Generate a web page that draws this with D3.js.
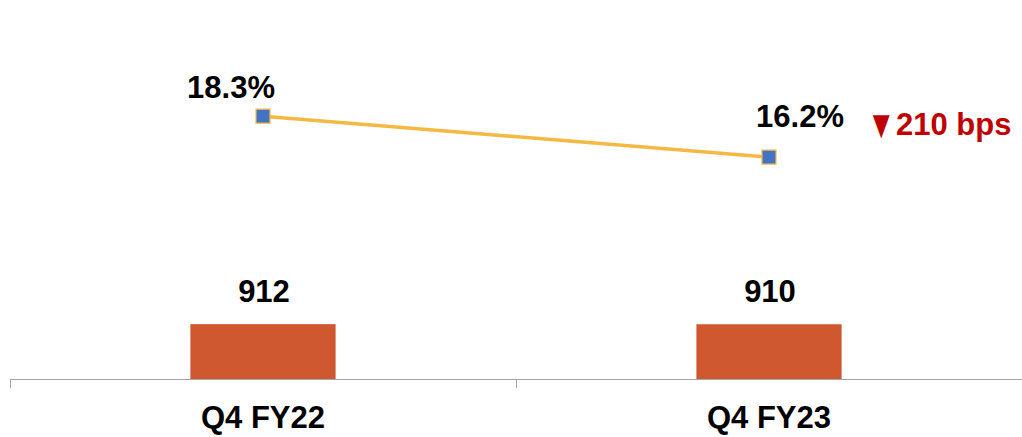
<!DOCTYPE html>
<html>
<head>
<meta charset="utf-8">
<script src="https://cdn.jsdelivr.net/npm/d3@7"></script>
<style>
  html, body { margin: 0; padding: 0; background: #fff; }
  svg { display: block; }
  text { font-family: "Liberation Sans", Arial, sans-serif; font-weight: bold; }
</style>
</head>
<body>
<svg id="chart" width="1022" height="437"></svg>
<script>
// Quarterly data
const categories = ["Q4 FY22", "Q4 FY23"];
const barValues = [912, 910];          // bar series
const marginValues = [18.3, 16.2];     // line series, percent
const changeLabel = "210 bps";         // change in margin

const W = 1022, H = 437;
const svg = d3.select("#chart");

const x = d3.scaleBand().domain(categories).range([10, 1022]).padding(0);
const barW = x.bandwidth() * 0.287;
const cx = d => x(d) + x.bandwidth() / 2;

// Bars on the primary scale, line on the secondary scale
const yBar = d3.scaleLinear().domain([0, 6300]).range([379, 0]);
const yLine = d3.scaleLinear().domain([10, 20]).range([278, 83]);

// Bars
svg.selectAll("rect.bar")
  .data(categories)
  .join("rect")
  .attr("class", "bar")
  .attr("x", d => cx(d) - barW / 2)
  .attr("y", (d, i) => yBar(barValues[i]))
  .attr("width", barW)
  .attr("height", (d, i) => yBar(0) - yBar(barValues[i]))
  .attr("fill", "#CF582E");

// Bar value labels
svg.selectAll("text.barlabel")
  .data(categories)
  .join("text")
  .attr("class", "barlabel")
  .attr("x", d => cx(d) + 1)
  .attr("y", (d, i) => yBar(barValues[i]) - 22)
  .attr("text-anchor", "middle")
  .attr("font-size", 31)
  .attr("fill", "#000")
  .text((d, i) => barValues[i]);

// Category axis
const axisY = 379;
svg.append("line")
  .attr("x1", 10).attr("x2", W)
  .attr("y1", axisY + 0.5).attr("y2", axisY + 0.5)
  .attr("stroke", "#A6A6A6").attr("stroke-width", 1);
const tickXs = categories.map(d => x(d)).concat([x(categories[categories.length - 1]) + x.bandwidth()]);
svg.selectAll("line.tick")
  .data(tickXs)
  .join("line")
  .attr("class", "tick")
  .attr("x1", d => Math.round(d) + 0.5).attr("x2", d => Math.round(d) + 0.5)
  .attr("y1", axisY).attr("y2", axisY + 9)
  .attr("stroke", "#A6A6A6").attr("stroke-width", 1);
svg.selectAll("text.cat")
  .data(categories)
  .join("text")
  .attr("class", "cat")
  .attr("x", d => cx(d))
  .attr("y", 428)
  .attr("text-anchor", "middle")
  .attr("font-size", 31)
  .attr("fill", "#000")
  .text(d => d);

// Margin line
const line = d3.line()
  .x((d, i) => cx(categories[i]))
  .y(d => yLine(d));
svg.append("path")
  .datum(marginValues)
  .attr("d", line)
  .attr("fill", "none")
  .attr("stroke", "#F5B942")
  .attr("stroke-width", 3.5);

// Square markers
const m = 14;
svg.selectAll("rect.marker")
  .data(marginValues)
  .join("rect")
  .attr("class", "marker")
  .attr("x", (d, i) => cx(categories[i]) - m / 2)
  .attr("y", d => yLine(d) - m / 2)
  .attr("width", m).attr("height", m)
  .attr("fill", "#4472C4")
  .attr("stroke", "#F5B942")
  .attr("stroke-width", 1.2);

// Margin labels (placed left of the first point, right of the second)
const labelOffsets = [[-32, -18], [31, -30]];
svg.selectAll("text.linelabel")
  .data(marginValues)
  .join("text")
  .attr("class", "linelabel")
  .attr("x", (d, i) => cx(categories[i]) + labelOffsets[i][0])
  .attr("y", (d, i) => yLine(d) + labelOffsets[i][1])
  .attr("text-anchor", "middle")
  .attr("font-size", 31)
  .attr("fill", "#000")
  .text(d => d.toFixed(1) + "%");

// Change annotation: down arrow and the change in basis points
svg.append("text")
  .attr("transform", "translate(867,138) scale(0.72,1)")
  .attr("font-family", "DejaVu Sans")
  .attr("font-size", 40)
  .attr("fill", "#C00000")
  .text("▼");
svg.append("text")
  .attr("x", 896)
  .attr("y", 135)
  .attr("font-size", 31)
  .attr("fill", "#C00000")
  .text(changeLabel);
</script>
</body>
</html>
